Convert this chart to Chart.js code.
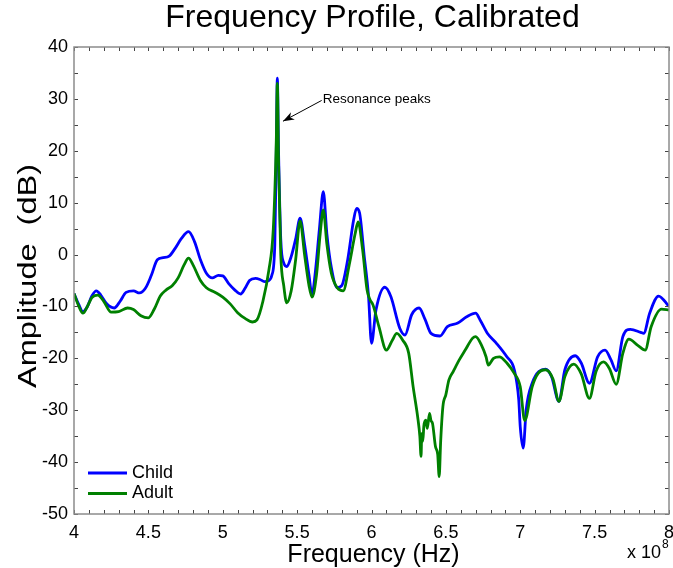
<!DOCTYPE html>
<html>
<head>
<meta charset="utf-8">
<script src="https://cdn.jsdelivr.net/npm/chart.js@4/dist/chart.umd.min.js"></script>
<style>
  html, body { margin: 0; padding: 0; background: #fff; }
  #wrap { width: 673px; height: 568px; }
</style>
</head>
<body>
<div id="wrap"><canvas id="freqChart"></canvas></div>
<script>
// frequency in units of 1e8 Hz, amplitude in dB
const childFreq = [4.00, 4.03, 4.06, 4.09, 4.12, 4.15, 4.18, 4.22, 4.27, 4.31, 4.35, 4.40, 4.44, 4.48, 4.52, 4.56, 4.60, 4.64, 4.68, 4.72, 4.77, 4.81, 4.85, 4.89, 4.93, 4.97, 5.00, 5.04, 5.08, 5.12, 5.15, 5.18, 5.22, 5.25, 5.28, 5.31, 5.33, 5.35, 5.36, 5.367, 5.375, 5.39, 5.41, 5.43, 5.46, 5.49, 5.52, 5.55, 5.58, 5.60, 5.62, 5.65, 5.676, 5.70, 5.73, 5.77, 5.80, 5.84, 5.88, 5.90, 5.92, 5.95, 5.98, 6.00, 6.03, 6.09, 6.13, 6.19, 6.225, 6.27, 6.32, 6.36, 6.40, 6.46, 6.51, 6.58, 6.64, 6.70, 6.73, 6.78, 6.84, 6.91, 6.96, 6.99, 7.00, 7.02, 7.04, 7.08, 7.17, 7.21, 7.26, 7.30, 7.37, 7.41, 7.465, 7.52, 7.57, 7.61, 7.645, 7.69, 7.74, 7.81, 7.83, 7.87, 7.93, 8.00];
const childAmp = [-7.5, -9.5, -11.0, -10.0, -8.0, -7.0, -7.8, -9.5, -10.3, -9.0, -7.3, -7.0, -7.4, -6.5, -4.0, -1.0, -0.6, -0.3, 1.2, 3.0, 4.4, 2.5, -1.0, -3.6, -4.5, -4.0, -4.1, -5.6, -6.8, -7.6, -6.5, -5.0, -4.6, -4.8, -5.2, -5.0, -4.0, 2.0, 20.0, 34.0, 20.0, 3.0, -1.6, -2.3, -0.4, 3.0, 7.0, 2.0, -4.0, -7.8, -4.0, 5.0, 12.1, 4.0, -2.5, -6.4, -6.0, -1.0, 6.7, 8.9, 8.0, 0.0, -8.0, -17.1, -10.7, -6.3, -8.1, -14.2, -15.5, -11.6, -10.3, -12.5, -15.2, -15.7, -13.9, -13.2, -12.0, -11.3, -12.6, -15.2, -17.1, -19.7, -22.2, -28.0, -33.2, -37.3, -29.9, -24.8, -22.1, -23.5, -28.3, -22.2, -19.5, -20.9, -24.8, -19.7, -18.4, -20.3, -22.4, -15.8, -14.4, -15.0, -15.2, -11.3, -8.0, -10.0];

const adultFreq = [4.00, 4.03, 4.06, 4.09, 4.12, 4.16, 4.20, 4.25, 4.30, 4.36, 4.40, 4.45, 4.50, 4.54, 4.58, 4.62, 4.66, 4.70, 4.74, 4.77, 4.80, 4.85, 4.89, 4.95, 5.00, 5.05, 5.10, 5.15, 5.20, 5.23, 5.27, 5.31, 5.34, 5.36, 5.367, 5.375, 5.39, 5.41, 5.43, 5.46, 5.49, 5.52, 5.55, 5.58, 5.60, 5.63, 5.655, 5.676, 5.70, 5.73, 5.77, 5.81, 5.85, 5.89, 5.91, 5.94, 5.97, 5.99, 6.01, 6.05, 6.10, 6.14, 6.17, 6.21, 6.25, 6.28, 6.31, 6.325, 6.333, 6.338, 6.345, 6.352, 6.365, 6.375, 6.39, 6.40, 6.41, 6.43, 6.445, 6.455, 6.465, 6.48, 6.50, 6.52, 6.55, 6.59, 6.63, 6.68, 6.70, 6.74, 6.77, 6.785, 6.82, 6.86, 6.91, 6.96, 7.00, 7.03, 7.08, 7.12, 7.17, 7.22, 7.26, 7.30, 7.36, 7.41, 7.465, 7.51, 7.56, 7.60, 7.645, 7.69, 7.73, 7.79, 7.84, 7.88, 7.95, 8.00];
const adultAmp = [-7.5, -9.8, -11.3, -10.0, -8.3, -7.8, -9.0, -11.1, -11.0, -10.3, -10.6, -11.8, -12.2, -10.5, -8.0, -6.8, -6.0, -4.5, -2.0, -0.7, -2.0, -5.0, -6.4, -7.3, -8.2, -9.5, -11.2, -12.3, -13.0, -12.6, -9.0, -3.0, 5.0, 22.0, 33.0, 18.0, 0.0, -6.0, -9.3, -7.0, -1.0, 6.5, 0.0, -6.0, -8.2, -4.0, 4.0, 8.6, 2.0, -3.6, -6.4, -7.0, -2.0, 4.0, 6.3, 1.0, -6.8, -8.7, -9.7, -13.9, -18.4, -16.5, -15.2, -16.5, -19.0, -25.5, -31.2, -35.0, -38.9, -34.5, -36.0, -33.0, -31.9, -33.5, -30.6, -32.0, -32.5, -37.0, -38.5, -42.8, -36.0, -29.3, -27.0, -24.2, -22.5, -20.3, -18.4, -16.1, -15.8, -17.5, -19.7, -21.3, -20.0, -19.7, -20.9, -22.9, -25.5, -32.0, -25.5, -22.9, -22.2, -24.0, -28.3, -23.5, -21.1, -23.0, -27.7, -22.5, -20.7, -22.0, -25.0, -19.0, -16.3, -17.5, -18.4, -13.9, -10.5, -10.7];

const seriesNames = ['Child', 'Adult'];
const seriesColors = ['#0000ff', '#008000'];
const xTicks = [4, 4.5, 5, 5.5, 6, 6.5, 7, 7.5, 8];
const yTicks = [-50, -40, -30, -20, -10, 0, 10, 20, 30, 40];

const FONT = "'Liberation Sans', Arial, sans-serif";

const toPoints = (xs, ys) => xs.map((x, i) => ({ x: x, y: ys[i] }));

// box, inward ticks, titles, legend and the arrow note
const decorPlugin = {
    id: 'decor',
    beforeDraw(chart) {
        const c = chart.ctx;
        c.save();
        c.fillStyle = '#fff';
        c.fillRect(0, 0, chart.width, chart.height);
        c.restore();
    },
    afterDraw(chart) {
        const c = chart.ctx;
        const a = chart.chartArea;
        const xs = chart.scales.x, ys = chart.scales.y;
        c.save();

        // minor/major ticks on all four sides
        c.strokeStyle = '#444';
        c.lineWidth = 1;
        c.beginPath();
        for (let i = 0; i <= 40; i++) {
            const px = Math.round(xs.getPixelForValue(4 + i * 0.1)) + 0.5;
            c.moveTo(px, a.bottom); c.lineTo(px, a.bottom - 4);
            c.moveTo(px, a.top); c.lineTo(px, a.top + 4);
        }
        for (let v = -50; v <= 40; v += 5) {
            const py = Math.round(ys.getPixelForValue(v)) + 0.5;
            c.moveTo(a.left, py); c.lineTo(a.left + 4, py);
            c.moveTo(a.right, py); c.lineTo(a.right - 4, py);
        }
        c.stroke();

        c.strokeStyle = '#8c8c8c';
        c.lineWidth = 1.5;
        c.strokeRect(a.left, a.top, a.right - a.left, a.bottom - a.top);

        c.fillStyle = '#000';
        c.textAlign = 'center';
        c.textBaseline = 'middle';
        const midX = (a.left + a.right) / 2;
        c.font = '32px ' + FONT;
        c.fillText('Frequency Profile, Calibrated', midX + 1, 18);
        c.font = '25px ' + FONT;
        c.fillText('Frequency (Hz)', midX + 2, 555);

        c.save();
        c.translate(29, 276);
        c.rotate(-Math.PI / 2);
        c.scale(1.3, 1);
        c.font = '25px ' + FONT;
        c.fillText('Amplitude  (dB)', 0, 0);
        c.restore();

        // exponent note
        c.textAlign = 'left';
        c.textBaseline = 'alphabetic';
        c.font = '18px ' + FONT;
        c.fillText('x 10', 627, 558);
        c.font = '12px ' + FONT;
        c.fillText('8', 662, 548);

        // legend
        c.font = '18px ' + FONT;
        c.textBaseline = 'middle';
        seriesNames.forEach((name, i) => {
            const ly = 473 + i * 20.5;
            c.strokeStyle = seriesColors[i];
            c.lineWidth = 3;
            c.beginPath();
            c.moveTo(88, ly); c.lineTo(127, ly);
            c.stroke();
            c.fillStyle = '#000';
            c.fillText(name, 132, ly);
        });

        // annotation arrow
        const sx = xs.getPixelForValue(5.665), sy = ys.getPixelForValue(29.7);
        const tx = xs.getPixelForValue(5.405), ty = ys.getPixelForValue(25.7);
        c.strokeStyle = '#000';
        c.lineWidth = 1;
        c.beginPath();
        c.moveTo(sx, sy); c.lineTo(tx, ty);
        c.stroke();
        const ang = Math.atan2(ty - sy, tx - sx);
        c.beginPath();
        c.moveTo(tx, ty);
        c.lineTo(tx - 12 * Math.cos(ang - 0.35), ty - 12 * Math.sin(ang - 0.35));
        c.lineTo(tx - 8 * Math.cos(ang), ty - 8 * Math.sin(ang));
        c.lineTo(tx - 12 * Math.cos(ang + 0.35), ty - 12 * Math.sin(ang + 0.35));
        c.closePath();
        c.fillStyle = '#000';
        c.fill();
        c.font = '13.5px ' + FONT;
        c.textBaseline = 'middle';
        c.fillText('Resonance peaks', sx + 1, sy - 1);

        c.restore();
    }
};

const ctx = document.getElementById('freqChart').getContext('2d');
new Chart(ctx, {
    type: 'line',
    data: {
        datasets: [
            {
                label: seriesNames[0],
                data: toPoints(childFreq, childAmp),
                borderColor: seriesColors[0],
                borderWidth: 2.8,
                pointRadius: 0,
                cubicInterpolationMode: 'monotone',
                order: 2
            },
            {
                label: seriesNames[1],
                data: toPoints(adultFreq, adultAmp),
                borderColor: seriesColors[1],
                borderWidth: 2.8,
                pointRadius: 0,
                cubicInterpolationMode: 'monotone',
                order: 1
            }
        ]
    },
    options: {
        responsive: true,
        maintainAspectRatio: false,
        animation: false,
        layout: { padding: { left: 0, right: 4, top: 47, bottom: 0 } },
        plugins: {
            legend: { display: false },
            tooltip: { enabled: false }
        },
        scales: {
            x: {
                type: 'linear',
                min: 4, max: 8,
                afterBuildTicks: s => { s.ticks = xTicks.map(v => ({ value: v })); },
                afterFit: s => { s.height = 54; s.paddingLeft = 0; s.paddingRight = 0; },
                grid: { display: false, drawTicks: false },
                border: { display: false },
                ticks: {
                    font: { family: FONT, size: 18 },
                    color: '#000',
                    padding: 8,
                    maxRotation: 0,
                    callback: v => String(v)
                }
            },
            y: {
                type: 'linear',
                min: -50, max: 40,
                afterBuildTicks: s => { s.ticks = yTicks.map(v => ({ value: v })); },
                afterFit: s => { s.width = 74; s.paddingTop = 0; s.paddingBottom = 0; },
                grid: { display: false, drawTicks: false },
                border: { display: false },
                ticks: {
                    font: { family: FONT, size: 18 },
                    color: '#000',
                    padding: 6,
                    callback: v => String(v)
                }
            }
        }
    },
    plugins: [decorPlugin]
});
</script>
</body>
</html>
